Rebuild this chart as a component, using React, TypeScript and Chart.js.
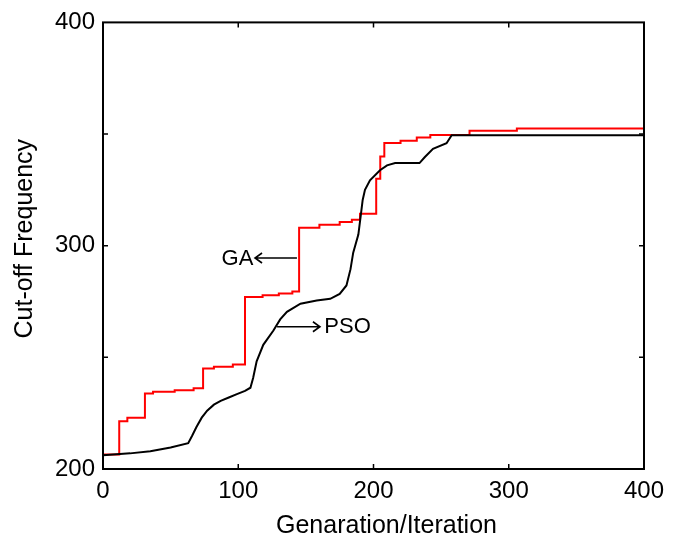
import React, { useEffect, useRef } from "react";
import { Chart, registerables } from "chart.js";

Chart.register(...registerables);

// GA best cut-off frequency (step changes): [generation, value]
const gaX = [0, 12, 18, 31, 37, 53, 67, 74, 82, 96, 105, 118, 130, 140, 145, 160, 175, 184, 190, 202, 205, 208, 220, 232, 242, 271, 306, 400];
const gaY = [206.5, 221.4, 222.9, 233.8, 234.6, 235.3, 236.2, 245, 245.8, 246.8, 277, 277.8, 278.6, 279.5, 308, 309.4, 310.6, 311.6, 314.3, 330, 340, 346, 347, 348.5, 349.6, 351.5, 352.5, 352.5];

// PSO best cut-off frequency: [iteration, value]
const psoX = [0, 20, 35, 50, 63, 66, 69, 73, 77, 82, 87, 93, 99, 105, 109, 111, 113.6, 118.5, 126, 131, 136, 146, 158, 168, 175, 180, 183, 185, 188.8, 190.8, 192, 193.7, 197.4, 204.8, 210, 216, 234, 238, 244, 254, 257.8, 400];
const psoY = [206.2, 207, 208, 209.6, 211.6, 215, 218.7, 223, 226.1, 228.8, 230.5, 232, 233.5, 235, 236.4, 240.8, 248.2, 255.6, 262, 267, 270.4, 274, 275.5, 276.2, 278.4, 282.2, 289.5, 296.9, 305, 314.6, 320.5, 325, 329.3, 333.8, 336, 337, 337, 339.7, 343.4, 345.9, 349.5, 349.5];

const xTickValues = [0, 100, 200, 300, 400];
const yTickValues = [200, 250, 300, 350, 400];
const yLabelValues = [200, 300, 400];

const xTitle = "Genaration/Iteration";
const yTitle = "Cut-off Frequency";

// annotation labels and arrows in data coordinates
const labelTexts = ["GA", "PSO"];
const labelX = [99.4, 180.8];
const labelY = [294.2, 263.5];
const arrowFromX = [143.4, 128.7];
const arrowToX = [112.4, 160.4];
const arrowY = [294.5, 263.7];

const FONT = "'Liberation Sans', Arial, sans-serif";

export default function App() {
  const ref = useRef<HTMLCanvasElement | null>(null);

  useEffect(() => {
    const canvas = ref.current;
    if (!canvas) return;

    const decor = {
      id: "decor",
      afterDraw(chart: any) {
        const ctx = chart.ctx;
        const { left, right, top, bottom } = chart.chartArea;
        const xs = chart.scales.x;
        const ys = chart.scales.y;
        ctx.save();
        // box
        ctx.strokeStyle = "#000";
        ctx.lineWidth = 2;
        ctx.strokeRect(left, top, right - left, bottom - top);
        // inward ticks
        ctx.lineWidth = 1.5;
        ctx.beginPath();
        xTickValues.forEach((v) => {
          if (v === 0 || v === 400) return;
          const px = xs.getPixelForValue(v);
          ctx.moveTo(px, bottom);
          ctx.lineTo(px, bottom - 5);
          ctx.moveTo(px, top);
          ctx.lineTo(px, top + 5);
        });
        yTickValues.forEach((v) => {
          if (v === 200 || v === 400) return;
          const py = ys.getPixelForValue(v);
          ctx.moveTo(left, py);
          ctx.lineTo(left + 5, py);
          ctx.moveTo(right, py);
          ctx.lineTo(right - 5, py);
        });
        ctx.stroke();

        // annotations
        ctx.fillStyle = "#000";
        ctx.font = `22px ${FONT}`;
        ctx.textAlign = "center";
        ctx.textBaseline = "middle";
        labelTexts.forEach((t, i) => {
          ctx.fillText(t, xs.getPixelForValue(labelX[i]), ys.getPixelForValue(labelY[i]));
        });
        ctx.lineWidth = 1.6;
        arrowFromX.forEach((fx, i) => {
          const x0 = xs.getPixelForValue(fx);
          const x1 = xs.getPixelForValue(arrowToX[i]);
          const y = ys.getPixelForValue(arrowY[i]);
          const dir = x1 > x0 ? 1 : -1;
          ctx.beginPath();
          ctx.moveTo(x0, y);
          ctx.lineTo(x1, y);
          ctx.moveTo(x1 - dir * 7, y - 5);
          ctx.lineTo(x1, y);
          ctx.lineTo(x1 - dir * 7, y + 5);
          ctx.stroke();
        });

        // axis titles
        ctx.font = `25px ${FONT}`;
        ctx.fillText(xTitle, (left + right) / 2 + 13, 526);
        ctx.translate(25, (top + bottom) / 2 - 7);
        ctx.rotate(-Math.PI / 2);
        ctx.fillText(yTitle, 0, 0);
        ctx.restore();
      },
    };

    const chart = new Chart(canvas, {
      type: "line",
      data: {
        datasets: [
          {
            label: "PSO",
            data: psoX.map((x, i) => ({ x, y: psoY[i] })),
            borderColor: "#000000",
            borderWidth: 2,
            pointRadius: 0,
            tension: 0,
            fill: false,
            order: 0,
          },
          {
            label: "GA",
            data: gaX.map((x, i) => ({ x, y: gaY[i] })),
            borderColor: "#ff0000",
            borderWidth: 2,
            pointRadius: 0,
            stepped: "before",
            fill: false,
            order: 1,
          },
        ],
      },
      options: {
        animation: false,
        responsive: false,
        layout: { padding: { left: 0, top: 17, right: 37, bottom: 0 } },
        plugins: {
          legend: { display: false },
          tooltip: { enabled: false },
          title: { display: false },
        },
        scales: {
          x: {
            type: "linear",
            min: 0,
            max: 400,
            afterFit(scale: any) {
              scale.height = 73;
            },
            afterBuildTicks(scale: any) {
              scale.ticks = xTickValues.map((v) => ({ value: v }));
            },
            grid: { display: false, drawTicks: false },
            border: { display: false },
            ticks: {
              color: "#000",
              padding: 8,
              maxRotation: 0,
              autoSkip: false,
              font: { family: FONT, size: 24 },
            },
          },
          y: {
            type: "linear",
            min: 200,
            max: 400,
            afterFit(scale: any) {
              scale.width = 103;
            },
            afterBuildTicks(scale: any) {
              scale.ticks = yTickValues.map((v) => ({ value: v }));
            },
            grid: { display: false, drawTicks: false },
            border: { display: false },
            ticks: {
              color: "#000",
              padding: 8,
              autoSkip: false,
              font: { family: FONT, size: 24 },
              callback: (v: any) => (yLabelValues.includes(Number(v)) ? String(v) : ""),
            },
          },
        },
      },
      plugins: [decor],
    });

    return () => chart.destroy();
  }, []);

  return (
    <canvas
      ref={ref}
      width={681}
      height={542}
      style={{ position: "absolute", left: 0, top: 0, display: "block" }}
    />
  );
}
